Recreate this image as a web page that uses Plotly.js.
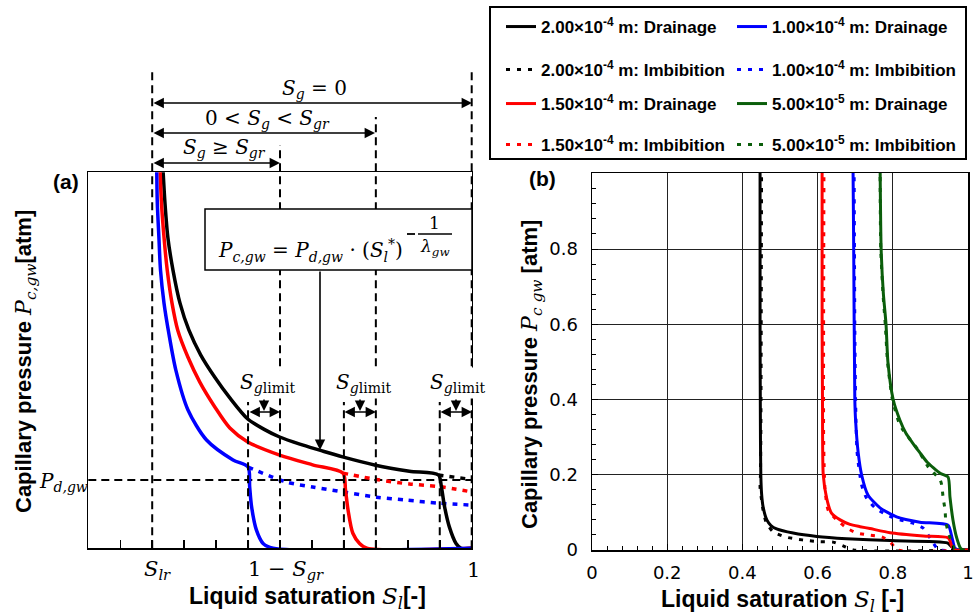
<!DOCTYPE html>
<html><head><meta charset="utf-8">
<script src="https://cdn.plot.ly/plotly-3.0.1.min.js"></script>
<style>html,body{margin:0;padding:0;background:#fff;} #chart{width:979px;height:615px;}</style>
</head><body><div id="chart"></div>
<script>
// ---------------- Panel (a): schematic curves (x in axis units 0..12, y in 0..1) ----------------
const aBlackDrainX = [2.33, 2.40, 2.49, 2.65, 2.87, 3.15, 3.52, 3.96, 4.43, 4.99, 5.49, 5.99, 6.62, 7.24, 7.96, 8.99, 10.05, 10.96, 11.05, 11.15, 11.30, 11.51, 11.67, 12];
const aBlackDrainY = [1.019, 0.918, 0.827, 0.740, 0.652, 0.580, 0.514, 0.455, 0.400, 0.344, 0.317, 0.296, 0.277, 0.261, 0.243, 0.221, 0.205, 0.195, 0.164, 0.111, 0.057, 0.013, 0, 0];
const aRedDrainX = [2.24, 2.29, 2.37, 2.47, 2.62, 2.80, 3.12, 3.49, 3.96, 4.43, 4.99, 5.99, 7.02, 7.97, 8.05, 8.13, 8.28, 8.49, 8.72, 12];
const aRedDrainY = [1.019, 0.918, 0.827, 0.740, 0.652, 0.580, 0.508, 0.442, 0.376, 0.320, 0.283, 0.248, 0.222, 0.200, 0.155, 0.102, 0.040, 0.013, 0, 0];
const aBlueDrainX = [2.14, 2.16, 2.21, 2.26, 2.37, 2.52, 2.74, 3.12, 3.70, 4.53, 5.00, 5.05, 5.11, 5.26, 5.47, 5.78, 12];
const aBlueDrainY = [1.019, 0.918, 0.827, 0.740, 0.652, 0.572, 0.474, 0.368, 0.288, 0.235, 0.216, 0.164, 0.111, 0.049, 0.013, 0, 0];
const aBlackImbX = [10.96, 12];
const aBlackImbY = [0.195, 0.183];
const aRedImbX = [7.97, 9.01, 10.05, 10.99, 12];
const aRedImbY = [0.200, 0.183, 0.171, 0.164, 0.150];
const aBlueImbX = [5.00, 6.21, 7.02, 7.96, 9.02, 9.96, 10.99, 12];
const aBlueImbY = [0.216, 0.176, 0.163, 0.150, 0.136, 0.128, 0.120, 0.115];

// ---------------- Panel (b): capillary pressure curves ----------------
const radii = ['2.00×10<sup>-4</sup> m', '1.00×10<sup>-4</sup> m', '1.50×10<sup>-4</sup> m', '5.00×10<sup>-5</sup> m'];
const seriesColors = ['#000000', '#0000ff', '#ff0000', '#0b5e0b'];

const bBlackDrainX = [0.447, 0.447, 0.448, 0.449, 0.451, 0.455, 0.465, 0.476, 0.491, 0.535, 0.598, 0.677, 0.793, 0.945, 0.955, 0.965, 0.975, 1.0];
const bBlackDrainY = [1.05, 0.6, 0.3, 0.2, 0.15, 0.115, 0.080, 0.065, 0.056, 0.045, 0.036, 0.030, 0.025, 0.019, 0.010, 0.003, 0, 0];
const bBlackImbX = [0.451, 0.450, 0.449, 0.448, 0.447, 0.451, 0.455, 0.463, 0.481, 0.513, 0.544, 0.574, 0.606, 0.641, 0.668, 0.695, 1.0];
const bBlackImbY = [1.05, 0.6, 0.3, 0.2, 0.167, 0.133, 0.106, 0.074, 0.049, 0.035, 0.029, 0.025, 0.022, 0.021, 0.011, 0, 0];
const bBlueDrainX = [0.694, 0.696, 0.699, 0.701, 0.708, 0.717, 0.734, 0.766, 0.810, 0.872, 0.947, 0.957, 0.965, 0.975, 1.0];
const bBlueDrainY = [1.05, 0.8, 0.4, 0.345, 0.258, 0.2, 0.146, 0.112, 0.088, 0.074, 0.066, 0.035, 0.005, 0, 0];
const bBlueImbX = [0.697, 0.699, 0.701, 0.705, 0.717, 0.730, 0.753, 0.784, 0.819, 0.851, 0.881, 0.899, 0.917, 0.925, 1.0];
const bBlueImbY = [1.05, 0.6, 0.4, 0.26, 0.173, 0.138, 0.112, 0.093, 0.080, 0.072, 0.058, 0.032, 0.005, 0, 0];
const bRedDrainX = [0.612, 0.612, 0.613, 0.615, 0.624, 0.637, 0.660, 0.686, 0.713, 0.739, 0.793, 0.881, 0.948, 0.957, 0.967, 1.0];
const bRedDrainY = [1.05, 0.6, 0.4, 0.2, 0.138, 0.098, 0.080, 0.068, 0.062, 0.057, 0.046, 0.037, 0.032, 0.010, 0, 0];
const bRedImbX = [0.617, 0.616, 0.616, 0.618, 0.620, 0.628, 0.651, 0.678, 0.705, 0.737, 0.771, 0.793, 0.814, 1.0];
const bRedImbY = [1.05, 0.6, 0.3, 0.2, 0.159, 0.106, 0.080, 0.058, 0.045, 0.040, 0.035, 0.021, 0, 0];
const bGreenDrainX = [0.766, 0.769, 0.775, 0.782, 0.787, 0.801, 0.819, 0.835, 0.851, 0.871, 0.891, 0.926, 0.947, 0.952, 0.960, 0.970, 0.980, 0.987, 1.0];
const bGreenDrainY = [1.05, 0.8, 0.68, 0.6, 0.5, 0.4, 0.345, 0.31, 0.287, 0.26, 0.234, 0.204, 0.194, 0.141, 0.080, 0.032, 0.005, 0, 0];
const bGreenImbX = [0.766, 0.768, 0.774, 0.780, 0.786, 0.799, 0.816, 0.827, 0.867, 0.894, 0.926, 0.930, 0.934, 0.939, 0.941, 0.948, 0.960, 0.965, 1.0];
const bGreenImbY = [1.05, 0.8, 0.68, 0.6, 0.5, 0.4, 0.34, 0.319, 0.266, 0.221, 0.186, 0.173, 0.138, 0.106, 0.075, 0.045, 0.013, 0, 0];

const bTickVals = [0, 0.2, 0.4, 0.6, 0.8];
const bXTickVals = [0, 0.2, 0.4, 0.6, 0.8, 1];

// ---------------- Geometry helpers ----------------
const W = 979, H = 615;
const px = v => v / W;
const py = v => 1 - v / H;
const A_L = 88.3, A_R = 471.7, A_T = 172.3, A_B = 548.3;
const B_L = 592, B_R = 968, B_T = 173, B_B = 550;
const aDomY = p => (A_B - p) / (A_B - A_T);
const SANS = 'Liberation Sans, Arial, sans-serif';
const SERIF = 'DejaVu Serif, serif';

// ---------------- Traces ----------------
const traces = [];
function aTrace(x, y, color, dash) {
  traces.push({x, y, type: 'scatter', mode: 'lines', xaxis: 'x', yaxis: 'y', showlegend: false, hoverinfo: 'skip',
    line: {color, width: 3.5, dash: dash || 'solid', shape: 'spline', smoothing: 0.8}});
}
aTrace(aBlackImbX, aBlackImbY, '#000000', '5px,6px');
aTrace(aRedImbX, aRedImbY, '#ff0000', '5px,6px');
aTrace(aBlueImbX, aBlueImbY, '#0000ff', '5px,6px');
aTrace(aBlackDrainX, aBlackDrainY, '#000000');
aTrace(aRedDrainX, aRedDrainY, '#ff0000');
aTrace(aBlueDrainX, aBlueDrainY, '#0000ff');

const DOT = '4px,7px';
const bSeries = [
  {name: radii[0] + ': Drainage', x: bBlackDrainX, y: bBlackDrainY, c: seriesColors[0], dash: 'solid', lg: 'legend'},
  {name: radii[1] + ': Drainage', x: bBlueDrainX, y: bBlueDrainY, c: seriesColors[1], dash: 'solid', lg: 'legend'},
  {name: radii[0] + ': Imbibition', x: bBlackImbX, y: bBlackImbY, c: seriesColors[0], dash: DOT, lg: 'legend2'},
  {name: radii[1] + ': Imbibition', x: bBlueImbX, y: bBlueImbY, c: seriesColors[1], dash: DOT, lg: 'legend2'},
  {name: radii[2] + ': Drainage', x: bRedDrainX, y: bRedDrainY, c: seriesColors[2], dash: 'solid', lg: 'legend3'},
  {name: radii[3] + ': Drainage', x: bGreenDrainX, y: bGreenDrainY, c: seriesColors[3], dash: 'solid', lg: 'legend3'},
  {name: radii[2] + ': Imbibition', x: bRedImbX, y: bRedImbY, c: seriesColors[2], dash: DOT, lg: 'legend4'},
  {name: radii[3] + ': Imbibition', x: bGreenImbX, y: bGreenImbY, c: seriesColors[3], dash: DOT, lg: 'legend4'}
];
bSeries.forEach(s => traces.push({x: s.x, y: s.y, type: 'scatter', mode: 'lines', xaxis: 'x2', yaxis: 'y2',
  name: '<b>' + s.name + '</b>', legend: s.lg, hoverinfo: 'skip',
  line: {color: s.c, width: 3, dash: s.dash, shape: 'spline', smoothing: 0.6}}));

// ---------------- Shapes ----------------
const dashStyle = {color: '#000', width: 2, dash: '8px,5px'};
const shapes = [];
// vertical dashed guide lines in panel (a): axis unit and top pixel
const aGuideU = [2, 5, 6, 8, 9, 11, 12];
const aGuideTop = [70, 402, 145, 402, 117, 402, 72];
aGuideU.forEach((u, i) => shapes.push({type: 'line', xref: 'x domain', yref: 'y domain', x0: u / 12, x1: u / 12,
  y0: 0, y1: aDomY(aGuideTop[i]), line: dashStyle, layer: 'above'}));
// P_d,gw level
shapes.push({type: 'line', xref: 'x domain', yref: 'y domain', x0: 0, x1: 1, y0: aDomY(480), y1: aDomY(480), line: dashStyle, layer: 'below'});
// formula box
shapes.push({type: 'rect', xref: 'paper', yref: 'paper', x0: px(205), x1: px(472), y0: py(270), y1: py(209),
  fillcolor: '#fff', line: {color: '#000', width: 1.5}, layer: 'above'});
// exponent minus and fraction bar
shapes.push({type: 'line', xref: 'paper', yref: 'paper', x0: px(407), x1: px(415), y0: py(234), y1: py(234), line: {color: '#000', width: 1.8}, layer: 'above'});
shapes.push({type: 'line', xref: 'paper', yref: 'paper', x0: px(418), x1: px(452), y0: py(234), y1: py(234), line: {color: '#000', width: 1.5}, layer: 'above'});
// legend frame
shapes.push({type: 'rect', xref: 'paper', yref: 'paper', x0: px(490), x1: px(966), y0: py(159), y1: py(7),
  line: {color: '#000', width: 2}, fillcolor: 'rgba(0,0,0,0)', layer: 'above'});

// ---------------- Annotations ----------------
const ann = [];
function lab(text, x, y, size, family, extra) {
  ann.push(Object.assign({text, xref: 'paper', yref: 'paper', x: px(x), y: py(y), showarrow: false,
    xanchor: 'center', yanchor: 'middle', font: {family: family || SERIF, size: size || 20, color: '#000'}}, extra || {}));
}
function arr(xt, yt, xh, yh, both) {
  ann.push({xref: 'paper', yref: 'paper', x: px(xh), y: py(yh), ax: xt - xh, ay: yt - yh, axref: 'pixel', ayref: 'pixel',
    text: '', showarrow: true, arrowhead: 2, arrowsize: 1.3, arrowwidth: 1.6, arrowcolor: '#000',
    standoff: 0, startstandoff: 0, arrowside: both ? 'end+start' : 'end', startarrowhead: 2, startarrowsize: 1.3});
}
// region arrows above panel (a)
lab('<i>S</i><sub><i>g</i></sub> = 0', 314, 89);
arr(152, 103, 472, 103, true);
lab('0 &lt; <i>S</i><sub><i>g</i></sub> &lt; <i>S</i><sub><i>gr</i></sub>', 267, 119);
arr(152, 133, 375, 133, true);
lab('<i>S</i><sub><i>g</i></sub> ≥ <i>S</i><sub><i>gr</i></sub>', 224, 148);
arr(152, 163, 280, 163, true);
// formula
lab('<i>P</i><sub><i>c,gw</i></sub> = <i>P</i><sub><i>d,gw</i></sub> · (<i>S</i><sub><i>l</i></sub><sup>*</sup>)', 216, 250, 20, SERIF, {xanchor: 'left'});
lab('1', 434, 223, 17);
lab('<i>λ</i><sub><i>gw</i></sub>', 435, 247, 17);
arr(320, 270, 320, 450, false);
// S_g limit markers
const limitCenters = [264, 360, 456];
const limitSpans = [[248, 280], [343, 376], [439, 472]];
const limitLabelX = [267, 363, 457];
limitLabelX.forEach((x, i) => {
  lab('<i>S</i><sub><i>g</i>limit</sub>', x, 383, 20, SERIF, {bgcolor: '#fff', borderpad: 2});
  arr(limitSpans[i][0], 412, limitSpans[i][1], 412, true);
  arr(limitCenters[i], 398, limitCenters[i], 411, false);
});
// P_d,gw and bottom labels of panel (a)
lab('<i>P</i><sub><i>d,gw</i></sub>', 63, 482, 20);
lab('<i>S</i><sub><i>lr</i></sub>', 157, 570, 21);
lab('1 − <i>S</i><sub><i>gr</i></sub>', 286, 570, 21);
lab('1', 473, 570, 21);
// panel labels and axis titles
lab('<b>(a)</b>', 66, 182, 21, SANS);
lab('<b>(b)</b>', 542, 179, 21, SANS);
const SL = '<span style="font-family:DejaVu Serif"><i>S</i><sub><i>l</i></sub></span>';
lab('<b>Liquid saturation </b>' + SL + '<b>[-]</b>', 307, 598, 23, SANS);
lab('<b>Liquid saturation </b>' + SL + '<b> [-]</b>', 782, 601, 23, SANS);
lab('<b>Capillary pressure </b><span style="font-family:DejaVu Serif"><i>P</i><sub><i>c,gw</i></sub></span><b>[atm]</b>', 25, 362, 22, SANS, {textangle: -90});
lab('<b>Capillary pressure </b><span style="font-family:DejaVu Serif"><i>P</i><sub><i>c gw</i></sub></span><b> [atm]</b>', 531, 375, 22, SANS, {textangle: -90});

// ---------------- Layout ----------------
const baseAxis = {showline: true, linecolor: '#000', linewidth: 1.5, mirror: true, zeroline: false, showgrid: false};
const tickFont = {family: 'DejaVu Sans, sans-serif', size: 18, color: '#000'};
const minorTicks = {tickmode: 'linear', dtick: 0.04, tick0: 0, ticks: 'inside', ticklen: 4, tickwidth: 1, tickcolor: '#000', showgrid: false};
const layout = {
  width: W, height: H, margin: {l: 0, r: 0, t: 0, b: 0}, paper_bgcolor: '#fff', plot_bgcolor: '#fff',
  xaxis: Object.assign({}, baseAxis, {domain: [px(A_L), px(A_R)], anchor: 'y', range: [0, 12], ticks: 'inside',
    tick0: 0, dtick: 1, ticklen: 8, tickwidth: 1.5, tickcolor: '#000', showticklabels: false}),
  yaxis: Object.assign({}, baseAxis, {domain: [py(A_B), py(A_T)], anchor: 'x', range: [0, 1], ticks: '', showticklabels: false}),
  xaxis2: Object.assign({}, baseAxis, {domain: [px(B_L), px(B_R)], anchor: 'y2', range: [0, 1], tickmode: 'array', tickvals: bXTickVals,
    ticks: 'inside', ticklen: 6, tickwidth: 1, tickcolor: '#000', showgrid: true, gridcolor: '#222', gridwidth: 1,
    tickfont: tickFont, ticklabelstandoff: 6, minor: minorTicks}),
  yaxis2: Object.assign({}, baseAxis, {domain: [py(B_B), py(B_T)], anchor: 'x2', range: [0, 1.002], tickmode: 'array', tickvals: bTickVals,
    ticks: 'inside', ticklen: 6, tickwidth: 1, tickcolor: '#000', showgrid: true, gridcolor: '#222', gridwidth: 1,
    tickfont: tickFont, ticklabelstandoff: 9, minor: minorTicks}),
  shapes, annotations: ann
};
const legendRowY = [27, 70, 104, 145];
['legend', 'legend2', 'legend3', 'legend4'].forEach((k, i) => {
  layout[k] = {orientation: 'h', x: px(501), y: py(legendRowY[i]), xanchor: 'left', yanchor: 'middle',
    bgcolor: 'rgba(0,0,0,0)', borderwidth: 0, font: {family: SANS, size: 17, color: '#000'},
    entrywidth: 186, entrywidthmode: 'pixels', itemwidth: 30, traceorder: 'normal'};
});

Plotly.newPlot('chart', traces, layout, {staticPlot: true, displayModeBar: false});
</script></body></html>
